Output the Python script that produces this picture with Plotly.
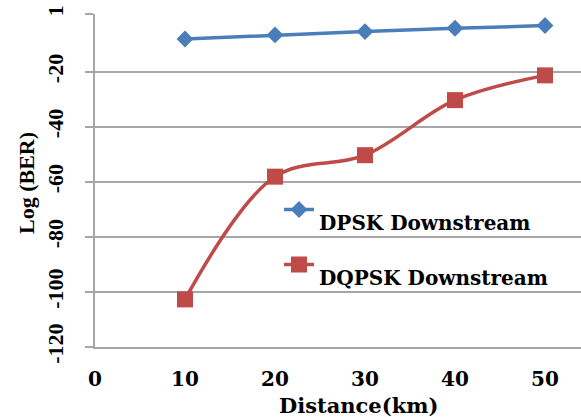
import plotly.graph_objects as go

# Distance in km and log(BER) for each modulation format
distance_km = [10, 20, 30, 40, 50]
dpsk_log_ber = [-8.1, -6.6, -5.4, -4.2, -3.2]
dqpsk_log_ber = [-102.7, -58.1, -50.3, -30.3, -21.3]

y_ticks = [-120, -100, -80, -60, -40, -20, 1]
y_tick_text = ["-120", "-100", "-80", "-60", "-40", "-20", "1"]
x_ticks = [0, 10, 20, 30, 40, 50]

BLUE = "#4a7ebb"
RED = "#be4b48"
GRID = "#a6a6a6"
SERIF_H = "DejaVu Serif"
SERIF_V = "Liberation Serif"

fig = go.Figure()

fig.add_trace(go.Scatter(
    x=distance_km, y=dpsk_log_ber, mode="lines+markers",
    name="<br>DPSK Downstream",
    line=dict(color=BLUE, width=3.5),
    marker=dict(symbol="diamond", size=13, color=BLUE),
))
fig.add_trace(go.Scatter(
    x=distance_km, y=dqpsk_log_ber, mode="lines+markers",
    name="<br>DQPSK Downstream",
    line=dict(color=RED, width=3.5, shape="spline", smoothing=1),
    marker=dict(symbol="square", size=16, color=RED),
))

fig.update_layout(
    width=581, height=417,
    margin=dict(l=95, r=0, t=14, b=70),
    paper_bgcolor="white", plot_bgcolor="white",
    showlegend=True,
    legend=dict(
        x=(279 - 95) / 486, y=(347 - 177) / 333,
        xanchor="left", yanchor="top",
        bgcolor="rgba(0,0,0,0)", valign="middle",
        tracegroupgap=0,
        font=dict(family=SERIF_H, size=20, color="black", weight="bold"),
    ),
    xaxis=dict(
        range=[0, 54], tickvals=x_ticks,
        showgrid=False, zeroline=False,
        showline=True, linecolor=GRID, linewidth=2,
        ticks="", ticklabelstandoff=13,
        tickfont=dict(family=SERIF_H, size=20, color="black", weight="bold"),
    ),
    yaxis=dict(
        range=[-120, 1], tickvals=y_ticks, ticktext=y_tick_text,
        tickangle=-90,
        showgrid=True, gridcolor=GRID, gridwidth=2,
        zeroline=False,
        showline=True, linecolor=GRID, linewidth=2,
        ticks="outside", ticklen=8, tickcolor=GRID, tickwidth=2,
        ticklabelstandoff=13,
        tickfont=dict(family=SERIF_V, size=22, color="black", weight="bold"),
    ),
    annotations=[
        dict(text="Distance(km)", xref="paper", yref="paper",
             x=(358 - 95) / 486, y=-(405 - 347) / 333,
             xanchor="center", yanchor="middle", showarrow=False,
             font=dict(family=SERIF_H, size=21, color="black", weight="bold")),
        dict(text="Log (BER)", xref="paper", yref="paper",
             x=(26 - 95) / 486, y=(347 - 183) / 333, textangle=-90,
             xanchor="center", yanchor="middle", showarrow=False,
             font=dict(family=SERIF_V, size=22, color="black", weight="bold")),
    ],
)

fig.write_html("out.html")
